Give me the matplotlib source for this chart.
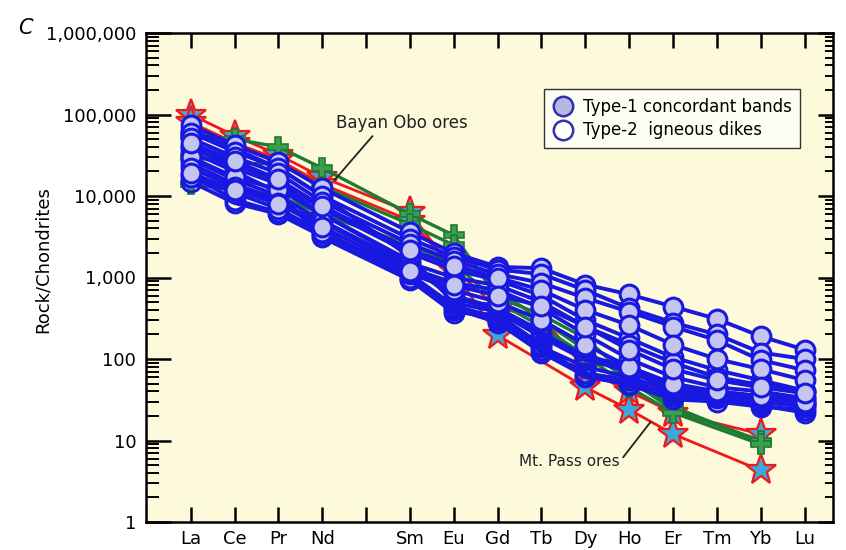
import numpy as np
import matplotlib
matplotlib.use("Agg")
import matplotlib.pyplot as plt
from matplotlib.lines import Line2D
from matplotlib.ticker import FixedLocator, LogLocator, NullFormatter

nan = np.nan

elements = ["La", "Ce", "Pr", "Nd", "Sm", "Eu", "Gd", "Tb", "Dy", "Ho", "Er", "Tm", "Yb", "Lu"]
# Pm is left out, so there is an empty tick between Nd and Sm
positions = [0, 1, 2, 3, 5, 6, 7, 8, 9, 10, 11, 12, 13, 14]

# Type-1 concordant bands (filled circles)
type1_bands = [
    [74000, 42000, 26000, 12500, 3600, 2000, 1350, 1300, 820, 620, 440, 310, 190, 130],
    [60000, 35000, 22000, 10000, 3000, 1800, 1250, 1100, 700, 420, 280, 200, 120, 100],
    [51000, 30000, 19000, 8500, 2600, 1600, 1100, 860, 560, 380, 250, 170, 97, 73],
    [40000, 25000, 15000, 7000, 2000, 1240, 930, 600, 300, 180, 105, 73, 55, 41],
    [30000, 17000, 12000, 6000, 1500, 1000, 800, 500, 250, 150, 90, 60, 48, 41],
    [22000, 13000, 8200, 4800, 1300, 860, 700, 420, 200, 100, 60, 45, 40, 33],
    [17000, 11000, 7000, 3600, 1130, 700, 500, 300, 150, 80, 50, 40, 35, 30],
    [45000, 27000, 16000, 7500, 2200, 1400, 1000, 700, 400, 260, 150, 100, 75, 55],
    [19000, 12000, 8000, 4200, 1200, 800, 600, 450, 250, 130, 75, 55, 45, 38],
]

# Type-2 igneous dikes (open circles)
type2_dikes = [
    [65000, 38000, 22000, 10000, 1800, 490, 380, 186, 97, 75, 45, 38, 29, 27],
    [25000, 14000, 9000, 3800, 1000, 400, 300, 130, 67, 55, 35, 33, 27, 22],
    [35000, 20000, 11000, 3100, 930, 370, 350, 150, 60, 50, 38, 35, 31, 28],
    [18000, 9000, 6300, 3500, 1100, 450, 320, 140, 80, 60, 40, 36, 33, 30],
    [28000, 16000, 10000, 5000, 1400, 560, 400, 200, 110, 80, 48, 40, 35, 33],
    [15000, 8200, 6000, 3200, 950, 420, 280, 120, 62, 48, 32, 30, 26, 24],
    [40000, 22000, 14000, 6000, 1600, 600, 420, 220, 100, 70, 42, 37, 30, 26],
]

# Bayan Obo ores (green)
bayan_obo = [
    [55000, 50000, 40000, 22000, 6000, 3300, 570, 350, 180, 60, 26, nan, 9.6, nan],
    [30000, 25000, 25000, 13000, 4500, 2500, 700, 300, 130, 55, 24, nan, 10, nan],
    [14000, 12000, 10000, 6000, 2500, 1500, 500, 250, 110, 45, 22, nan, 9, nan],
]

# Mt. Pass ores (red stars)
mt_pass = [
    [100000, 55000, 32000, 17000, 6300, 1200, 195, nan, 45, 24, 12, nan, 4.3, nan],
    [80000, 45000, 28000, 14000, 5000, 1300, 420, 330, 75, 40, 22, nan, 12, nan],
]

blue = "#1818E0"
lavender = "#C4C6EF"
green_line = "#1E7B34"
green_fill = "#3E9E4F"
red = "#F01818"
cyan = "#3AA8DC"
paper = "#FCFADA"

fig = plt.figure(figsize=(8.46, 5.5), dpi=100)
ax = fig.add_axes([146 / 846, 28 / 550, 687 / 846, 489 / 550])
ax.set_facecolor(paper)

x = np.array(positions, dtype=float)


def draw(rows, **style):
    for row in rows:
        y = np.array(row, dtype=float)
        ok = np.isfinite(y)
        ax.plot(x[ok], y[ok], **style)


draw(mt_pass, color=red, lw=2.0, marker="*", ms=23, mfc=cyan, mec=red, mew=1.6, zorder=2)
draw(bayan_obo, color=green_line, lw=2.4, marker="P", ms=15, mfc=green_fill, mec=green_line, mew=1.2, zorder=3)
draw(type2_dikes, color=blue, lw=2.8, marker="o", ms=13.5, mfc="none", mec=blue, mew=2.2, zorder=4)
draw(type1_bands, color=blue, lw=2.8, marker="o", ms=13.5, mfc=lavender, mec=blue, mew=2.2, zorder=5)

ax.set_yscale("log")
ax.set_ylim(1, 1e6)
ax.set_xlim(-1.02, 14.65)

decades = [1, 10, 100, 1000, 10000, 100000, 1000000]
ax.yaxis.set_major_locator(FixedLocator(decades))
ax.set_yticklabels([f"{d:,}" for d in decades])
ax.yaxis.set_minor_locator(LogLocator(base=10, subs=np.arange(2, 10), numticks=20))
ax.yaxis.set_minor_formatter(NullFormatter())

tick_pos = list(range(15))
tick_lab = ["La", "Ce", "Pr", "Nd", "", "Sm", "Eu", "Gd", "Tb", "Dy", "Ho", "Er", "Tm", "Yb", "Lu"]
ax.set_xticks(tick_pos)
ax.set_xticklabels(tick_lab)

for s in ax.spines.values():
    s.set_linewidth(1.8)
    s.set_color("black")

ax.tick_params(axis="x", which="major", direction="in", top=True, bottom=True,
               length=11, width=1.8, labelsize=13, pad=6)
ax.tick_params(axis="y", which="major", direction="in", left=True, right=False,
               length=18, width=1.8, labelsize=13, pad=7)
ax.tick_params(axis="y", which="minor", direction="in", left=True, right=False,
               length=9, width=1.4)

ax2 = ax.twinx()
ax2.set_yscale("log")
ax2.set_ylim(1, 1e6)
ax2.yaxis.set_major_locator(FixedLocator(decades))
ax2.yaxis.set_minor_locator(LogLocator(base=10, subs=np.arange(2, 10), numticks=20))
ax2.yaxis.set_major_formatter(NullFormatter())
ax2.yaxis.set_minor_formatter(NullFormatter())
ax2.tick_params(axis="y", which="major", direction="in", length=11, width=1.8)
ax2.tick_params(axis="y", which="minor", direction="in", length=6, width=1.4)
for s in ax2.spines.values():
    s.set_visible(False)

ax.set_ylabel("Rock/Chondrites", fontsize=13)
ax.yaxis.set_label_coords(-0.137, 0.536)

ax.annotate("Bayan Obo ores", xy=(3.28, 15700), xytext=(3.32, 78000),
            ha="left", va="center", fontsize=12, color="#222222",
            arrowprops=dict(arrowstyle="-", color="#222222", lw=1.3,
                            relpos=(0.3, 0.0), shrinkA=1, shrinkB=0),
            zorder=10)
ax.annotate("Mt. Pass ores", xy=(10.49, 16.9), xytext=(9.78, 5.45),
            ha="right", va="center", fontsize=11, color="#222222",
            arrowprops=dict(arrowstyle="-", color="#222222", lw=1.3,
                            relpos=(1.0, 0.5), shrinkA=1, shrinkB=0),
            zorder=10)

handles = [
    Line2D([], [], ls="none", marker="o", ms=14, mfc="#B6B8E0", mec="#3030B0", mew=1.8),
    Line2D([], [], ls="none", marker="o", ms=14, mfc="white", mec="#3030B0", mew=1.8),
]
leg = ax.legend(handles, ["Type-1 concordant bands", "Type-2  igneous dikes"],
                loc="upper right", bbox_to_anchor=(0.964, 0.902), fontsize=12,
                frameon=True, fancybox=False, handletextpad=0.6, borderpad=0.5,
                labelspacing=0.35, handlelength=1.2)
leg.get_frame().set_facecolor("#FEFDF2")
leg.get_frame().set_edgecolor("#333333")
leg.get_frame().set_linewidth(1.0)
leg.get_frame().set_alpha(1)
leg.set_zorder(20)

fig.text(18 / 846, 1 - 28 / 550, "C", fontsize=15, style="italic", va="center", ha="left")

fig.savefig("out.png", dpi=100)
